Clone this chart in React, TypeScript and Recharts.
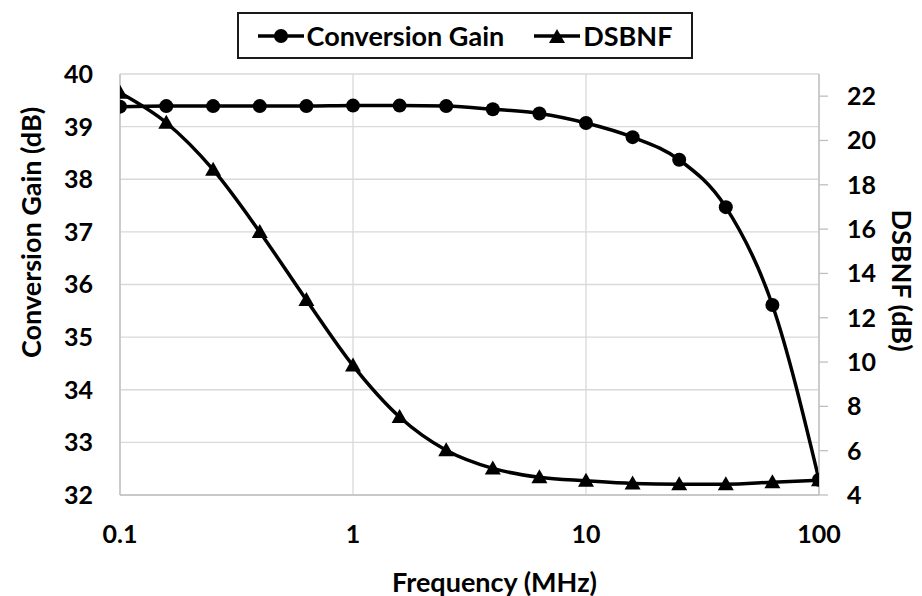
import React from 'react';
import { LineChart, Line, XAxis, YAxis, CartesianGrid, Legend, Label } from 'recharts';

// Measured IF response of the mixer
const frequencyMHz = [0.1, 0.158, 0.251, 0.398, 0.631, 1, 1.585, 2.512, 3.981, 6.31, 10, 15.85, 25.12, 39.81, 63.1, 100];
const conversionGainDb = [39.38, 39.39, 39.39, 39.39, 39.39, 39.4, 39.4, 39.39, 39.33, 39.25, 39.07, 38.8, 38.37, 37.47, 35.61, 32.29];
const dsbnfDb = [22.15, 20.8, 18.68, 15.87, 12.8, 9.84, 7.52, 6.02, 5.2, 4.8, 4.64, 4.52, 4.49, 4.49, 4.58, 4.67];

const freqTicks = [0.1, 1, 10, 100];
const freqMinorTicks = [
  0.2, 0.3, 0.4, 0.5, 0.6, 0.7, 0.8, 0.9, 1,
  2, 3, 4, 5, 6, 7, 8, 9, 10,
  20, 30, 40, 50, 60, 70, 80, 90, 100,
];
const gainTicks = [32, 33, 34, 35, 36, 37, 38, 39, 40];
const nfTicks = [4, 6, 8, 10, 12, 14, 16, 18, 20, 22];

const data = frequencyMHz.map((f, i) => ({ f, gain: conversionGainDb[i], nf: dsbnfDb[i] }));

const FONT = 'Lato, "Open Sans", sans-serif';
const AXIS_GRAY = '#bfbfbf';
const GRID_GRAY = '#d9d9d9';
const TITLE_SIZE = 27;
const tickStyle = { fill: '#000', fontSize: 25, fontWeight: 700, fontFamily: FONT };

const trianglePath = (cx: number, cy: number) =>
  `M${cx},${cy - 8} L${cx + 8},${cy + 6} L${cx - 8},${cy + 6} Z`;

const renderTriangle = (props: any) => {
  const { cx, cy, index } = props;
  if (cx == null || cy == null) return <g key={`tri-${index}`} />;
  return <path key={`tri-${index}`} d={trianglePath(cx, cy)} fill="#000" />;
};

const LegendIcon = ({ kind }: { kind: 'circle' | 'triangle' }) => (
  <svg width={46} height={20} style={{ display: 'block' }}>
    <line x1={0} y1={10} x2={46} y2={10} stroke="#000" strokeWidth={3.5} />
    {kind === 'circle' ? (
      <circle cx={23} cy={10} r={7} fill="#000" />
    ) : (
      <path d={trianglePath(23, 11)} fill="#000" />
    )}
  </svg>
);

const renderLegend = () => (
  <div
    style={{
      boxSizing: 'border-box',
      width: '100%',
      height: '100%',
      border: '2px solid #1a1a1a',
      display: 'flex',
      alignItems: 'center',
      justifyContent: 'center',
      fontFamily: FONT,
      fontWeight: 700,
      fontSize: TITLE_SIZE,
      color: '#000',
    }}
  >
    <LegendIcon kind="circle" />
    <span style={{ marginLeft: 3, marginRight: 30 }}>Conversion Gain</span>
    <LegendIcon kind="triangle" />
    <span style={{ marginLeft: 3 }}>DSBNF</span>
  </div>
);

const leftTitle = (props: any) => {
  const vb = props.viewBox;
  const x = vb.x + 30;
  const y = vb.y + vb.height / 2 - 52;
  return (
    <text
      x={x}
      y={y}
      transform={`rotate(-90 ${x} ${y})`}
      textAnchor="middle"
      dominantBaseline="central"
      fontFamily={FONT}
      fontWeight={700}
      fontSize={TITLE_SIZE}
      fill="#000"
    >
      Conversion Gain (dB)
    </text>
  );
};

const rightTitle = (props: any) => {
  const vb = props.viewBox;
  const x = vb.x + 83;
  const y = vb.y + vb.height / 2 - 4;
  return (
    <text
      x={x}
      y={y}
      transform={`rotate(90 ${x} ${y})`}
      textAnchor="middle"
      dominantBaseline="central"
      fontFamily={FONT}
      fontWeight={700}
      fontSize={TITLE_SIZE}
      fill="#000"
    >
      DSBNF (dB)
    </text>
  );
};

const bottomTitle = (props: any) => {
  const vb = props.viewBox;
  const x = vb.x + vb.width / 2 + 25;
  const y = vb.y + 86;
  return (
    <text
      x={x}
      y={y}
      textAnchor="middle"
      dominantBaseline="central"
      fontFamily={FONT}
      fontWeight={700}
      fontSize={TITLE_SIZE}
      fill="#000"
    >
      Frequency (MHz)
    </text>
  );
};

export default function App() {
  return (
    <div style={{ position: 'absolute', left: 0, top: 0, width: 922, height: 596, background: '#fff' }}>
      <LineChart width={922} height={596} data={data} margin={{ top: 74, right: 0, bottom: 0, left: 0 }}>
        <CartesianGrid yAxisId="left" stroke={GRID_GRAY} strokeWidth={1.3} />
        <XAxis
          dataKey="f"
          type="number"
          scale="log"
          domain={[0.1, 100]}
          ticks={freqTicks}
          interval={0}
          allowDataOverflow
          height={101}
          tickLine={false}
          tickSize={0}
          tickMargin={30}
          axisLine={{ stroke: AXIS_GRAY, strokeWidth: 1.3 }}
          tick={tickStyle}
          tickFormatter={(v: number) => String(v)}
        >
          <Label content={bottomTitle} />
        </XAxis>
        <XAxis
          xAxisId="minor"
          dataKey="f"
          type="number"
          scale="log"
          domain={[0.1, 100]}
          ticks={freqMinorTicks}
          interval={0}
          allowDataOverflow
          height={0}
          mirror
          tickSize={8}
          tickLine={{ stroke: AXIS_GRAY, strokeWidth: 1.3 }}
          axisLine={false}
          tick={false}
        />
        <YAxis
          yAxisId="left"
          domain={[32, 40]}
          ticks={gainTicks}
          interval={0}
          width={120}
          tickLine={false}
          tickSize={0}
          tickMargin={27}
          axisLine={{ stroke: AXIS_GRAY, strokeWidth: 1.3 }}
          tick={tickStyle}
        >
          <Label content={leftTitle} />
        </YAxis>
        <YAxis
          yAxisId="right"
          orientation="right"
          domain={[4, 23]}
          ticks={nfTicks}
          interval={0}
          width={103}
          tickSize={9}
          tickMargin={19}
          tickLine={{ stroke: AXIS_GRAY, strokeWidth: 1.3 }}
          axisLine={{ stroke: AXIS_GRAY, strokeWidth: 1.3 }}
          tick={{ ...tickStyle, textAnchor: 'start' }}
        >
          <Label content={rightTitle} />
        </YAxis>
        <Legend
          content={renderLegend}
          layout="horizontal"
          verticalAlign="middle"
          wrapperStyle={{ top: 12, left: 237, width: 456, height: 47 }}
        />
        <Line
          yAxisId="right"
          dataKey="nf"
          name="DSBNF"
          type="monotone"
          stroke="#000"
          strokeWidth={3.5}
          dot={renderTriangle}
          activeDot={false}
          isAnimationActive={false}
        />
        <Line
          yAxisId="left"
          dataKey="gain"
          name="Conversion Gain"
          type="monotone"
          stroke="#000"
          strokeWidth={3.5}
          dot={{ r: 7, fill: '#000', stroke: '#000', strokeWidth: 0 }}
          activeDot={false}
          isAnimationActive={false}
        />
      </LineChart>
    </div>
  );
}
